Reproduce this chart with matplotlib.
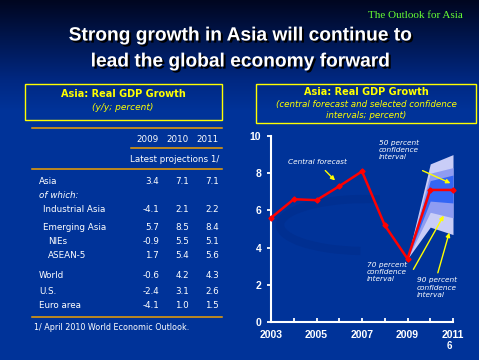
import numpy as np
import matplotlib
matplotlib.use("Agg")
import matplotlib.pyplot as plt
from matplotlib.lines import Line2D
from matplotlib.patches import Rectangle, Arc
import matplotlib.patheffects as pe

W, H = 479, 360

# table data
rows = ["Asia", "of which:", "Industrial Asia", "Emerging Asia", "NIEs", "ASEAN-5",
        "World", "U.S.", "Euro area"]
v2009 = [3.4, None, -4.1, 5.7, -0.9, 1.7, -0.6, -2.4, -4.1]
v2010 = [7.1, None, 2.1, 8.5, 5.5, 5.4, 4.2, 3.1, 1.0]
v2011 = [7.1, None, 2.2, 8.4, 5.1, 5.6, 4.3, 2.6, 1.5]
col_years = ["2009", "2010", "2011"]

# chart data
years = [2003, 2004, 2005, 2006, 2007, 2008, 2009, 2010, 2011]
central = [5.6, 6.6, 6.55, 7.3, 8.1, 5.2, 3.4, 7.1, 7.1]
fan_years = [2009, 2010, 2011]
lo90 = [3.4, 5.1, 4.7]
lo70 = [3.4, 5.9, 5.6]
lo50 = [3.4, 6.5, 6.4]
hi50 = [3.4, 7.6, 7.9]
hi70 = [3.4, 8.0, 8.3]
hi90 = [3.4, 8.5, 9.0]


def fx(x):
    return x / W


def fy(y):
    return 1 - y / H


fig = plt.figure(figsize=(W / 100, H / 100), dpi=100)

# background gradient
bg = fig.add_axes([0, 0, 1, 1])
top = np.array([0, 6, 32]) / 255
mid = np.array([0, 40, 130]) / 255
low = np.array([0, 51, 153]) / 255
img = np.zeros((H, 2, 3))
for i in range(H):
    if i < 80:
        t = i / 80
        c = top * (1 - t) + mid * t
    elif i < 110:
        t = (i - 80) / 30
        c = mid * (1 - t) + low * t
    else:
        c = low
    img[i, :] = c
bg.imshow(img, aspect="auto", extent=[0, W, H, 0])
# faint decorative swoosh
bg.add_patch(Arc((365, 225), 170, 52, theta1=100, theta2=300, color="#002f91", lw=6))
bg.set_xlim(0, W)
bg.set_ylim(H, 0)
bg.axis("off")
bg.set_zorder(-10)

# header text
fig.text(fx(463), fy(16), "The Outlook for Asia", color="#66ff33",
         family="Liberation Serif", fontsize=8, ha="right", va="center")
shadow = [pe.withSimplePatchShadow(offset=(1.5, -1.5), shadow_rgbFace="black", alpha=1)]
for yv, s in [(36, "Strong growth in Asia will continue to"),
              (62, "lead the global economy forward")]:
    fig.text(fx(240), fy(yv), s, color="white", family="Liberation Sans",
             weight="bold", fontsize=13.8, ha="center", va="center",
             path_effects=shadow)

# left box
fig.add_artist(Rectangle((fx(25), fy(120)), fx(222 - 25), (120 - 84) / H,
                         transform=fig.transFigure, facecolor="none",
                         edgecolor="#ffff00", lw=1))
fig.text(fx(123), fy(94), "Asia: Real GDP Growth", color="#ffff00",
         weight="bold", fontsize=7, ha="center", va="center")
fig.text(fx(123), fy(107), "(y/y; percent)", color="#ffff00",
         style="italic", fontsize=6.5, ha="center", va="center")

# table
orange = "#f0a000"
for x0, x1, yv in [(32, 222, 128), (131, 222, 148), (32, 222, 169), (32, 222, 317)]:
    fig.add_artist(Line2D([fx(x0), fx(x1)], [fy(yv), fy(yv)], color=orange, lw=1.1))
col_x = [159, 189, 219]
tfont = dict(color="white", fontsize=6.3, va="center")
for cx, yr in zip(col_x, col_years):
    fig.text(fx(cx), fy(140), yr, ha="right", **tfont)
fig.text(fx(219), fy(160), "Latest projections 1/", ha="right", **tfont)
row_y = [181, 195, 210, 227, 241, 256, 276, 291, 306]
row_x = [39, 39, 43, 43, 48, 48, 39, 39, 39]
for name, ry, rx, a, b, c in zip(rows, row_y, row_x, v2009, v2010, v2011):
    st = "italic" if a is None else "normal"
    fig.text(fx(rx), fy(ry), name, ha="left", style=st, **tfont)
    if a is not None:
        for cx, v in zip(col_x, (a, b, c)):
            fig.text(fx(cx), fy(ry), f"{v:.1f}", ha="right", **tfont)
fig.text(fx(34), fy(328), "1/ April 2010 World Economic Outlook.", ha="left",
         **{**tfont, "fontsize": 5.8})

# right box
fig.add_artist(Rectangle((fx(256), fy(123)), fx(476 - 256), (123 - 84) / H,
                         transform=fig.transFigure, facecolor="none",
                         edgecolor="#ffff00", lw=1))
fig.text(fx(366), fy(92), "Asia: Real GDP Growth", color="#ffff00",
         weight="bold", fontsize=7, ha="center", va="center")
fig.text(fx(366), fy(104), "(central forecast and selected confidence",
         color="#ffff00", style="italic", fontsize=6.3, ha="center", va="center")
fig.text(fx(366), fy(115), "intervals; percent)", color="#ffff00",
         style="italic", fontsize=6.3, ha="center", va="center")

# chart
ax = fig.add_axes([fx(271), fy(322), fx(453 - 271), (322 - 136) / H])
ax.set_facecolor("none")
ax.fill_between(fan_years, lo90, hi90, color="#c9cdf7", lw=0, zorder=1)
ax.fill_between(fan_years, lo70, hi70, color="#8e9cf2", lw=0, zorder=2)
ax.fill_between(fan_years, lo50, hi50, color="#3366f5", lw=0, zorder=3)
ax.plot(years, central, color="#ff0000", lw=1.8, marker="D", ms=2.6,
        zorder=5, clip_on=False)

ax.set_xlim(2003, 2011)
ax.set_ylim(0, 10)
for s in ["top", "right"]:
    ax.spines[s].set_visible(False)
for s in ["left", "bottom"]:
    ax.spines[s].set_color("white")
    ax.spines[s].set_linewidth(1.5)
ax.set_xticks([2003, 2005, 2007, 2009, 2011])
ax.set_xticks([2004, 2006, 2008, 2010], minor=True)
ax.set_yticks([0, 2, 4, 6, 8, 10])
ax.tick_params(axis="x", which="both", direction="in", length=3, width=1.3,
               color="white", labelcolor="white", labelsize=7.5, pad=6)
ax.tick_params(axis="y", direction="out", length=3, width=1.3, color="white",
               labelcolor="white", labelsize=7.5, pad=4)
for lab in ax.get_xticklabels() + ax.get_yticklabels():
    lab.set_fontweight("bold")
    lab.set_family("Liberation Sans")

afont = dict(color="white", style="italic", fontsize=5.3, linespacing=1.25)
arrow = dict(arrowstyle="-|>", color="#ffff00", lw=1, mutation_scale=6)
ax.annotate("", xy=(2005.9, 7.5), xytext=(2005.3, 8.25), arrowprops=arrow)
ax.text(2003.75, 8.6, "Central forecast", va="center", **afont)
ax.annotate("", xy=(2011.0, 7.4), xytext=(2009.55, 8.2), arrowprops=arrow,
            annotation_clip=False)
ax.text(2007.75, 9.8, "50 percent\nconfidence\ninterval", va="top", **afont)
ax.annotate("", xy=(2010.65, 5.85), xytext=(2009.2, 2.7), arrowprops=arrow)
ax.text(2007.2, 3.25, "70 percent\nconfidence\ninterval", va="top", **afont)
ax.annotate("", xy=(2010.87, 4.95), xytext=(2010.3, 2.5), arrowprops=arrow)
ax.text(2009.4, 2.4, "90 percent\nconfidence\ninterval", va="top", **afont)

fig.text(fx(449), fy(346), "6", color="white", weight="bold", fontsize=7,
         family="Liberation Sans", ha="center", va="center")

fig.savefig("out.png", dpi=100)
